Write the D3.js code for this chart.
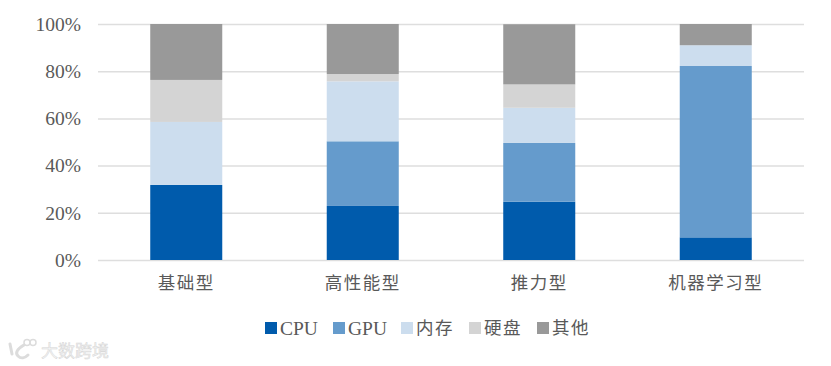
<!DOCTYPE html>
<html>
<head>
<meta charset="utf-8">
<script src="https://cdn.jsdelivr.net/npm/d3@7"></script>
<style>
  html, body { margin: 0; padding: 0; background: #fff; }
  svg { display: block; }
  .domain { display: none; }
</style>
</head>
<body>
<div id="chart-area"></div>
<script>
var categories = ['基础型', '高性能型', '推力型', '机器学习型']
var seriesNames = ['CPU', 'GPU', '内存', '硬盘', '其他']
var cpu = [31.8, 22.9, 24.7, 9.6]
var gpu = [0, 27.4, 24.9, 72.6]
var memory = [26.7, 25.4, 14.9, 8.8]
var disk = [17.8, 3.1, 9.9, 0]
var other = [23.7, 21.2, 25.5, 9]
var yTicks = [0, 20, 40, 60, 80, 100]
var colors = ['#005bac', '#659bcc', '#ccddee', '#d4d4d4', '#999999']

var margin = { top: 24, left: 98, bottom: 106, right: 27 }
var width = 831 - margin.left - margin.right
var height = 366 - margin.top - margin.bottom

var latin = '"Liberation Serif", serif'
var cjk = '"Noto Sans CJK SC", sans-serif'
var textColor = '#595959'

var svg = d3.select('#chart-area').append('svg')
    .attr('width', 831)
    .attr('height', 366)

var g = svg.append('g').attr('transform', `translate(${margin.left}, ${margin.top})`)

var x = d3.scaleBand().domain(categories).range([0, width]).paddingInner(.592).paddingOuter(.296)
var y = d3.scaleLinear().domain([0, 100]).range([height, 0])
var color = d3.scaleOrdinal().domain(seriesNames).range(colors)

var yAxisCall = d3.axisLeft(y).tickValues(yTicks).tickSize(-width).tickPadding(17).tickFormat(d => d + '%')
var yAxisGroup = g.append('g').attr('class', 'y-axis').call(yAxisCall)
yAxisGroup.selectAll('line').attr('stroke', '#dedede').attr('stroke-width', 1.5)
yAxisGroup.selectAll('text')
    .attr('font-family', latin)
    .attr('font-size', '19.5px')
    .attr('fill', textColor)

var xAxisCall = d3.axisBottom(x).tickSize(0).tickPadding(17)
var xAxisGroup = g.append('g').attr('class', 'x-axis').attr('transform', `translate(0, ${height})`).call(xAxisCall)
xAxisGroup.selectAll('text')
    .attr('font-family', cjk)
    .attr('font-size', '17.5px')
    .attr('letter-spacing', '1.5px')
    .attr('fill', textColor)

var rows = categories.map((c, i) => ({
    category: c,
    CPU: cpu[i],
    GPU: gpu[i],
    '内存': memory[i],
    '硬盘': disk[i],
    '其他': other[i]
}))

var stacked = d3.stack().keys(seriesNames)(rows)

g.selectAll('g.layer').data(stacked).enter()
    .append('g')
        .attr('class', 'layer')
        .attr('fill', d => color(d.key))
    .selectAll('rect').data(d => d).enter()
    .append('rect')
        .attr('x', d => x(d.data.category))
        .attr('width', x.bandwidth())
        .attr('y', d => y(d[1]))
        .attr('height', d => y(d[0]) - y(d[1]))

var legend = svg.append('g').attr('class', 'legend').attr('transform', 'translate(265, 322)')

var items = legend.selectAll('g').data(seriesNames).enter()
    .append('g')
        .attr('transform', (d, i) => `translate(${i * 68}, 0)`)

items.append('rect')
    .attr('width', 12)
    .attr('height', 12)
    .attr('fill', d => color(d))

items.append('text')
    .attr('x', 15)
    .attr('y', 6)
    .attr('dy', '.35em')
    .attr('font-family', d => /[A-Z]/.test(d) ? latin : cjk)
    .attr('font-size', d => /[A-Z]/.test(d) ? '19.5px' : '17.5px')
    .attr('letter-spacing', d => /[A-Z]/.test(d) ? '0' : '1.5px')
    .attr('fill', textColor)
    .text(d => d)

// watermark, bottom left
var mark = svg.append('g').attr('class', 'watermark').attr('fill', 'none').attr('stroke', '#dcdcdc')
mark.append('path')
    .attr('stroke-width', 3)
    .attr('stroke-linecap', 'round')
    .attr('d', 'M10 344 L12 354 M24 345 C17 349 15 353 18 356 C21 359 25 358 28 355')
mark.append('circle').attr('cx', 27).attr('cy', 342.5).attr('r', 3).attr('stroke-width', 1.5)
mark.append('circle').attr('cx', 33).attr('cy', 342.5).attr('r', 3).attr('stroke-width', 1.5)
svg.append('text')
    .attr('x', 41)
    .attr('y', 357)
    .attr('font-family', cjk)
    .attr('font-size', '17px')
    .attr('fill', '#f4f4f4')
    .attr('stroke', '#d6d6d6')
    .attr('stroke-width', .5)
    .text('大数跨境')
</script>
</body>
</html>
